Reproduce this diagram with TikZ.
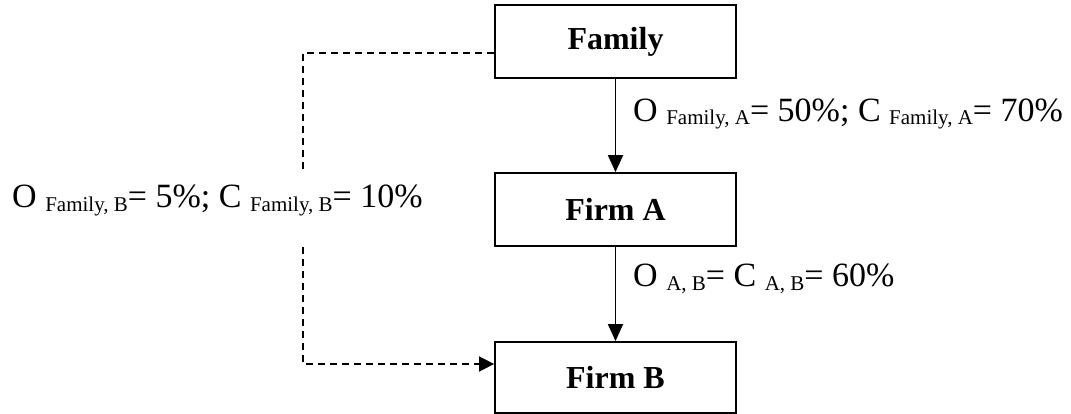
\documentclass[tikz,border=0pt]{standalone}
\usepackage{fontspec}
\setmainfont{Liberation Serif}
\usetikzlibrary{arrows.meta}
\newcommand{\sbs}[1]{{\fontsize{21}{21}\selectfont\raisebox{-3pt}{#1}}}
\tikzset{
  box/.style={draw, line width=1.8pt, minimum width=241pt, inner sep=0pt, font=\fontsize{32}{32}\selectfont\bfseries},
  solidarrow/.style={line width=1.8pt, -{Triangle[length=17pt,width=15pt]}},
  dasharrow/.style={line width=1.6pt, dash pattern=on 7pt off 5pt, -{Triangle[length=15pt,width=15pt]}},
  dashline/.style={line width=1.6pt, dash pattern=on 7pt off 5pt},
  lbl/.style={inner sep=0pt, anchor=base west, font=\fontsize{34}{34}\selectfont}
}
\begin{document}
\begin{tikzpicture}[x=1pt,y=-1pt]
\useasboundingbox (0,0) rectangle (1071,414);
\node[box, minimum height=73pt] (fam) at (615.5,41.5) {Family};
\node[box, minimum height=73pt] (fa) at (615.5,209.5) {Firm A};
\node[box, minimum height=71pt] (fb) at (615.5,377.5) {Firm B};
\draw[solidarrow] (fam) -- (fa);
\draw[solidarrow] (fa) -- (fb);
\coordinate (gapT) at (303,173);
\coordinate (gapB) at (303,247);
\draw[dashline] (fam.west |- 0,53) -| (gapT);
\draw[dasharrow] (gapB) |- (fb.west |- 0,364);
\node[lbl] (l1) at (633,122) {O \sbs{Family, A}= 50\%; C \sbs{Family, A}= 70\%};
\node[lbl] (l2) at (633,287) {O \sbs{A, B}= C \sbs{A, B}= 60\%};
\node[lbl] (l3) at (12,208) {O \sbs{Family, B}= 5\%; C \sbs{Family, B}= 10\%};
\end{tikzpicture}
\end{document}
